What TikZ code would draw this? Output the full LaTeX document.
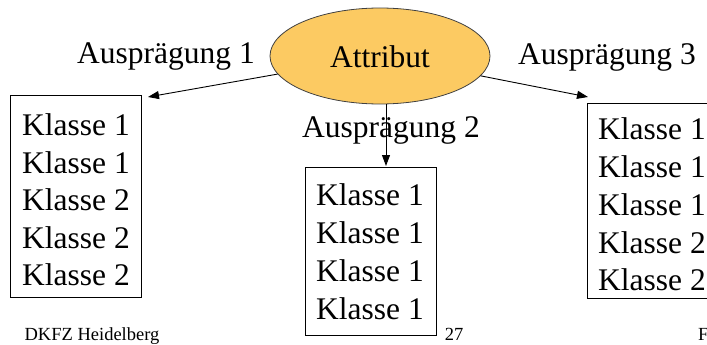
\documentclass[tikz,border=0pt]{standalone}
\usepackage{fontspec}
\setmainfont{Liberation Serif}
\usetikzlibrary{shapes.geometric,arrows.meta}
\definecolor{attrfill}{RGB}{252,202,98}
\begin{document}
\begin{tikzpicture}[x=1pt,y=-1pt,
  big/.style={font=\fontsize{31.5}{37.6}\selectfont, inner sep=0pt},
  klassbox/.style={draw=black, line width=0.9pt, inner sep=0pt},
  foot/.style={font=\fontsize{18.5}{22}\selectfont, inner sep=0pt, anchor=base},
  arr/.style={-{Triangle[length=11pt,width=8pt]}, line width=0.9pt}]
\clip (0,0) rectangle (707,345);
\useasboundingbox (0,0) rectangle (707,345);
% attribute ellipse
\node[ellipse, draw=black!75, line width=0.8pt, fill=attrfill, minimum width=220pt, minimum height=96pt, inner sep=0pt] (attr) at (380,56) {};
\node[big] (attrtxt) at (380,57) {Attribut};
% labels
\node[big] (l1) at (166,57) {Ausprägung 1};
\node[big] (l3) at (607,57) {Ausprägung 3};
\node[big] (l2) at (391,130) {Ausprägung 2};
% boxes
\node[klassbox, minimum width=131pt, minimum height=202pt] (b1) at (75.5,196) {};
\node[big, align=center] (t1) at (76,200) {Klasse 1\\Klasse 1\\Klasse 2\\Klasse 2\\Klasse 2};
\node[klassbox, minimum width=131pt, minimum height=168pt] (b2) at (370.5,251) {};
\node[big, align=center, font=\fontsize{31.5}{38}\selectfont] (t2) at (370,252) {Klasse 1\\Klasse 1\\Klasse 1\\Klasse 1};
\node[klassbox, minimum width=130pt, minimum height=195pt] (b3) at (652,200.5) {};
\node[big, align=center, font=\fontsize{31.5}{37.8}\selectfont] (t3) at (652,204.5) {Klasse 1\\Klasse 1\\Klasse 1\\Klasse 2\\Klasse 2};
% arrows
\coordinate (e1) at (148,97);
\coordinate (e3) at (588,97);
\coordinate (e2) at (386,166);
\draw[arr] (attr) -- (e1);
\draw[arr] (attr) -- (e3);
\draw[arr] (e2 |- attr.south) -- (e2);
% footer
\node[foot] (f1) at (92,340) {DKFZ Heidelberg};
\node[foot] (f2) at (454,340) {27};
\node[foot, anchor=base west] (f3) at (698,340) {F};
\end{tikzpicture}
\end{document}
